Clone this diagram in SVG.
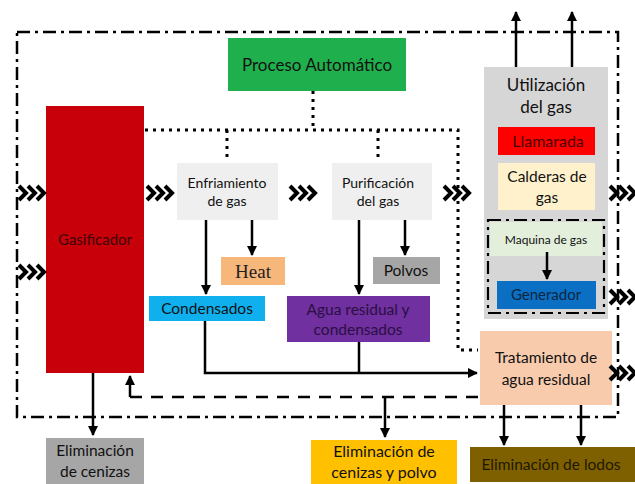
<svg xmlns="http://www.w3.org/2000/svg" width="635" height="484" viewBox="0 0 635 484">
  <defs>
    <style>
      text { font-family: Lato, "Open Sans", "Liberation Sans", sans-serif; text-anchor: middle; fill: #111; }
      .t12 { font-size: 12px; }
      .t14 { font-size: 14px; }
      .t15 { font-size: 15px; }
      .t155 { font-size: 15.5px; }
      .t16 { font-size: 16px; }
      .t17 { font-size: 17px; }
      .line { fill: none; stroke: #000; stroke-width: 2.5; }
      .dotted { fill: none; stroke: #000; stroke-width: 3; stroke-dasharray: 3 5; }
      .dashed { fill: none; stroke: #000; stroke-width: 2.5; stroke-dasharray: 12 9; }
      .dashdot { fill: none; stroke: #000; stroke-width: 2.5; stroke-dasharray: 13 5 3 5; }
      .chev { fill: none; stroke: #000; stroke-width: 4; stroke-linejoin: miter; }
    </style>
    <marker id="arrow" viewBox="0 0 10 10" refX="9" refY="5" markerWidth="4" markerHeight="4" orient="auto-start-reverse">
      <path d="M0,0 L10,5 L0,10 z" fill="#000"/>
    </marker>
    <g id="chevrons">
      <polyline class="chev" points="0,-7 7,0 0,7"/>
      <polyline class="chev" points="9,-7 16,0 9,7"/>
      <polyline class="chev" points="18,-7 25,0 18,7"/>
    </g>
  </defs>

  <rect width="635" height="484" fill="#fff"/>

  <!-- system boundary -->
  <g id="boundary">
    <path class="dashdot" d="M17,32 H618 V417 H17 Z"/>
  </g>

  <!-- nodes -->
  <g id="proceso">
    <rect x="228" y="38" width="178" height="53" fill="#1fb04d"/>
    <text class="t17" x="317" y="71">Proceso Automático</text>
  </g>

  <g id="gasificador">
    <rect x="46" y="106" width="98" height="267" fill="#c8000a"/>
    <text class="t15" x="95" y="245" style="fill:#3a0606">Gasificador</text>
  </g>

  <g id="enfriamiento">
    <rect x="177" y="163" width="101" height="57" fill="#efefef"/>
    <text class="t14" x="227" y="188">Enfriamiento</text>
    <text class="t14" x="227" y="206">de gas</text>
  </g>

  <g id="purificacion">
    <rect x="332" y="163" width="100" height="57" fill="#efefef"/>
    <text class="t14" x="378" y="188">Purificación</text>
    <text class="t14" x="378" y="206">del gas</text>
  </g>

  <g id="heat">
    <rect x="221" y="257" width="64" height="28" fill="#f8b77a"/>
    <text x="253" y="278" style="font-family:'Liberation Serif',serif;font-size:19px;fill:#222">Heat</text>
  </g>

  <g id="condensados">
    <rect x="149" y="296" width="116" height="25" fill="#10b0ef"/>
    <text class="t155" x="207" y="314">Condensados</text>
  </g>

  <g id="polvos">
    <rect x="373" y="257" width="67" height="27" fill="#a6a6a6"/>
    <text class="t155" x="406" y="276">Polvos</text>
  </g>

  <g id="agua">
    <rect x="287" y="296" width="143" height="46" fill="#7030a0"/>
    <text class="t155" x="358" y="315" style="fill:#2a0f40">Agua residual y</text>
    <text class="t155" x="358" y="335" style="fill:#2a0f40">condensados</text>
  </g>

  <g id="utilizacion">
    <rect x="484" y="67" width="124" height="252" fill="#d6d6d6"/>
    <text class="t17" x="546" y="91">Utilización</text>
    <text class="t17" x="546" y="113">del gas</text>
  </g>

  <g id="llamarada">
    <rect x="498" y="127" width="97" height="28" fill="#ff0000"/>
    <text class="t16" x="548" y="147" style="fill:#4a0000">Llamarada</text>
  </g>

  <g id="calderas">
    <rect x="498" y="163" width="97" height="47" fill="#fff1cc"/>
    <text class="t155" x="547" y="182">Calderas de</text>
    <text class="t155" x="547" y="203">gas</text>
  </g>

  <g id="maquina">
    <rect x="490" y="222" width="112" height="34" fill="#e3efdb"/>
    <path class="dashdot" d="M488,220 H604 V313 H488 Z" style="stroke-width:2.2"/>
    <text class="t12" x="546" y="244">Maquina de gas</text>
  </g>

  <g id="generador">
    <rect x="497" y="281" width="99" height="28" fill="#0b70c4"/>
    <text class="t15" x="546" y="300" style="fill:#0d2540">Generador</text>
  </g>

  <g id="tratamiento">
    <rect x="480" y="331" width="132" height="74" fill="#f8cbad"/>
    <text class="t155" x="546" y="363">Tratamiento de</text>
    <text class="t155" x="546" y="385">agua residual</text>
  </g>

  <g id="elim-cenizas">
    <rect x="46" y="438" width="98" height="46" fill="#a6a6a6"/>
    <text class="t155" x="95" y="456">Eliminación</text>
    <text class="t155" x="95" y="477">de cenizas</text>
  </g>

  <g id="elim-cenizas-polvo">
    <rect x="311" y="440" width="146" height="44" fill="#ffc000"/>
    <text class="t16" x="384" y="457">Eliminación de</text>
    <text class="t16" x="384" y="478">cenizas y polvo</text>
  </g>

  <g id="elim-lodos">
    <rect x="470" y="447" width="165" height="35" fill="#7f6000"/>
    <text class="t155" x="551" y="470" style="fill:#1e1800">Eliminación de lodos</text>
  </g>

  <!-- connectors -->
  <g id="connectors">
    <!-- control lines from Proceso Automático -->
    <path class="dotted" d="M313,91 V130"/>
    <path class="dotted" d="M145,130 H458 V350 H478"/>
    <path class="dotted" d="M227,130 V162"/>
    <path class="dotted" d="M378,130 V162"/>

    <!-- gas flow -->
    <use href="#chevrons" x="19" y="193"/>
    <use href="#chevrons" x="19" y="272"/>
    <use href="#chevrons" x="147" y="193"/>
    <use href="#chevrons" x="290" y="193"/>
    <use href="#chevrons" x="444" y="193"/>
    <use href="#chevrons" x="610" y="193"/>
    <use href="#chevrons" x="610" y="297"/>
    <use href="#chevrons" x="610" y="373"/>

    <!-- outputs of cooling and purification -->
    <path class="line" d="M206,220 V294" marker-end="url(#arrow)"/>
    <path class="line" d="M252,220 V255" marker-end="url(#arrow)"/>
    <path class="line" d="M359,220 V294" marker-end="url(#arrow)"/>
    <path class="line" d="M405,220 V255" marker-end="url(#arrow)"/>

    <!-- liquids to wastewater treatment -->
    <path class="line" d="M205,321 V373 H477" marker-end="url(#arrow)"/>
    <path class="line" d="M359,342 V373"/>

    <!-- return line to gasifier -->
    <path class="dashed" d="M478,397 H130"/>
    <path class="line" d="M130,397 V376" marker-end="url(#arrow)"/>
    <path class="line" d="M385,397 V437" marker-end="url(#arrow)"/>

    <!-- ash removal -->
    <path class="line" d="M93,373 V435" marker-end="url(#arrow)"/>

    <!-- sludge removal -->
    <path class="line" d="M504,405 V445" marker-end="url(#arrow)"/>
    <path class="line" d="M581,405 V445" marker-end="url(#arrow)"/>

    <!-- gas use outputs -->
    <path class="line" d="M516,67 V12" marker-end="url(#arrow)"/>
    <path class="line" d="M572,67 V12" marker-end="url(#arrow)"/>

    <!-- engine to generator -->
    <path class="line" d="M547,252 V279" marker-end="url(#arrow)"/>
  </g>
</svg>
